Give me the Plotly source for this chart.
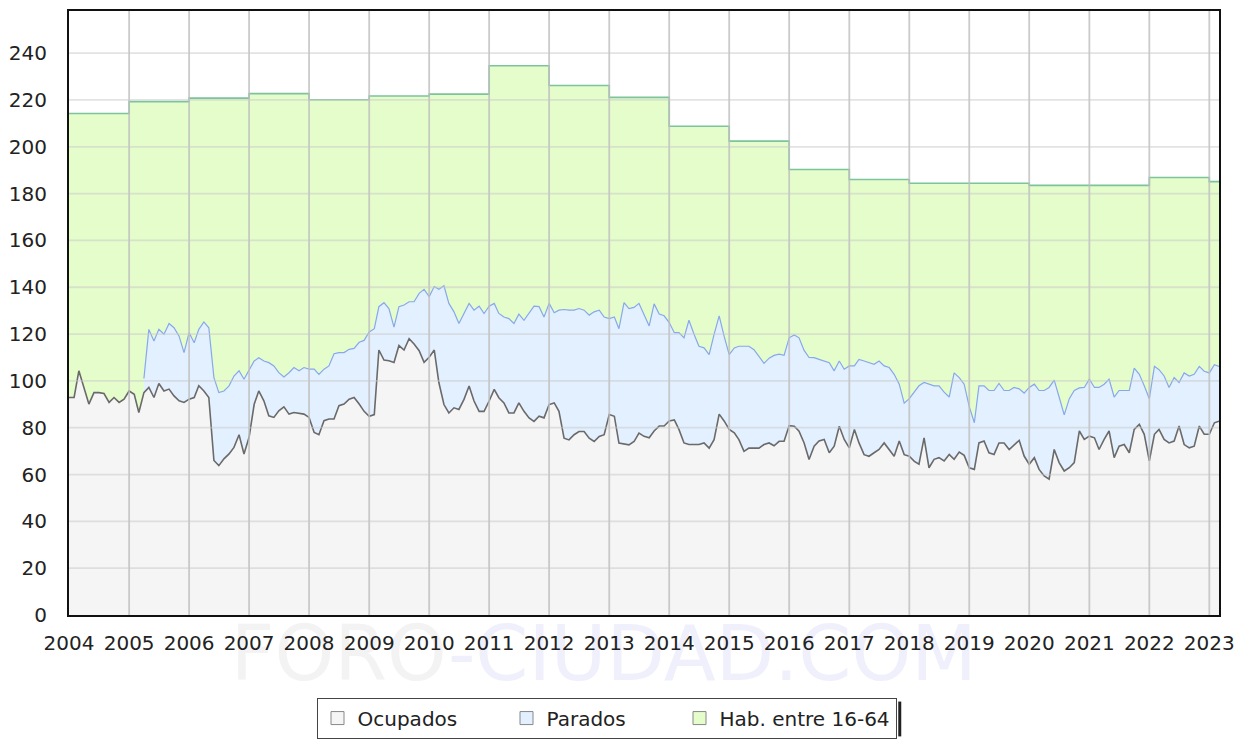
import pandas as pd
import plotly.graph_objects as go

# Monthly series, Jan 2004 .. Mar 2023
meses = pd.date_range("2004-01-01", "2023-03-01", freq="MS")

ocupados = [
    92.9, 92.9, 104.3, 97.2, 90.1, 95.0, 95.0, 94.6, 90.8, 92.9, 90.8, 92.2,
    95.7, 94.3, 86.5, 95.0, 97.2, 92.9, 98.9, 95.7, 96.5, 93.6, 91.5, 90.8,
    92.2, 92.9, 97.9, 95.7, 92.9, 66.0, 63.8, 66.7, 68.8, 71.6, 77.0, 68.8,
    75.9, 90.0, 95.7, 91.5, 85.1, 84.4, 87.2, 88.9, 85.8, 86.5, 86.1, 85.8,
    84.4, 78.0, 77.0, 83.0, 83.7, 83.7, 89.4, 90.1, 92.2, 92.9, 90.1, 87.0,
    84.9, 85.6, 113.2, 108.9, 108.6, 107.9, 115.1, 113.2, 118.0, 115.8, 112.9, 107.9,
    110.1, 113.2, 99.3, 89.9, 86.3, 88.5, 87.8, 92.1, 97.8, 91.4, 87.0, 87.0,
    91.4, 96.4, 92.8, 90.6, 86.3, 86.3, 90.6, 87.0, 84.2, 82.7, 84.9, 84.2,
    89.9, 90.6, 87.0, 75.5, 74.8, 77.0, 78.4, 78.4, 75.5, 74.1, 76.3, 77.0,
    85.6, 84.9, 73.4, 73.0, 72.7, 74.1, 77.7, 76.3, 75.7, 78.6, 80.7, 80.7,
    82.9, 83.3, 79.3, 73.5, 72.8, 72.8, 72.8, 73.5, 71.3, 74.9, 85.8, 82.9,
    79.3, 77.8, 74.9, 69.9, 71.3, 71.3, 71.3, 72.8, 73.5, 72.3, 74.2, 74.2,
    80.9, 80.6, 78.5, 73.5, 66.4, 72.1, 74.3, 75.0, 69.3, 72.1, 80.6, 75.0,
    71.4, 79.2, 73.5, 68.5, 67.8, 69.3, 70.7, 73.5, 70.7, 67.8, 74.3, 68.5,
    67.8, 65.6, 64.4, 75.7, 62.9, 66.5, 67.2, 65.8, 68.6, 66.5, 69.6, 68.2,
    62.9, 62.2, 73.5, 74.3, 69.3, 68.6, 73.5, 73.5, 70.7, 72.8, 74.6, 67.9,
    64.4, 67.2, 62.2, 59.4, 58.0, 70.7, 65.1, 61.5, 62.9, 65.1, 78.6, 75.0,
    76.4, 75.7, 70.7, 75.0, 78.6, 67.2, 72.1, 72.8, 69.3, 79.3, 81.4, 77.2,
    65.8, 77.2, 79.3, 75.0, 73.5, 74.3, 80.7, 72.8, 71.4, 72.1, 80.7, 77.2,
    77.2, 82.1, 82.8,
]

# Top edge of the "Parados" band (ocupados + parados), available from Apr 2005
inicio_parados = 15
ocupados_mas_parados = [
    101.0, 122.0, 117.0, 122.0, 119.9, 124.5, 122.7, 119.1, 112.1,
    120.6, 116.3, 122.0, 125.2, 122.7, 101.4, 95.0, 95.7, 97.9, 102.1, 104.3, 100.7,
    104.3, 108.5, 109.9, 108.5, 107.8, 106.4, 103.5, 101.7, 103.5, 105.7, 104.3, 105.7,
    105.0, 105.0, 102.8, 105.0, 106.4, 111.6, 112.1, 112.1, 113.5, 113.9, 116.5, 117.3,
    120.9, 122.3, 131.7, 133.4, 130.9, 123.0, 131.7, 132.4, 133.8, 133.8, 137.4, 139.1,
    136.0, 140.3, 139.1, 140.6, 133.1, 129.5, 124.5, 128.8, 133.1, 130.2, 131.9, 128.8,
    131.9, 133.1, 128.8, 127.3, 126.6, 124.5, 128.5, 125.9, 128.8, 131.9, 131.7, 127.3,
    133.1, 129.1, 130.2, 130.5, 130.2, 130.2, 130.9, 130.2, 128.1, 129.5, 130.2, 127.3,
    126.6, 127.3, 122.3, 133.4, 130.9, 131.4, 133.1, 128.0, 123.5, 132.9, 128.6, 127.8,
    124.9, 120.6, 120.6, 118.4, 125.9, 119.9, 114.8, 114.1, 111.2, 119.9, 127.8, 119.1,
    111.2, 114.1, 114.8, 114.8, 114.8, 113.3, 110.4, 107.5, 109.7, 110.9, 111.4, 110.9,
    118.4, 119.6, 118.4, 113.0, 110.0, 109.9, 109.2, 108.5, 107.8, 104.3, 108.5, 105.0,
    106.4, 106.4, 109.2, 108.5, 107.8, 107.1, 108.5, 106.4, 105.7, 102.8, 98.6, 90.5,
    92.4, 95.2, 97.9, 99.3, 98.6, 97.9, 97.9, 95.2, 93.1, 103.4, 101.4, 98.6,
    89.0, 82.1, 97.9, 97.9, 95.9, 95.9, 98.9, 95.9, 95.9, 97.2, 96.6, 94.8,
    97.2, 98.6, 95.9, 95.9, 97.2, 100.3, 93.1, 85.5, 92.4, 95.9, 97.0, 97.2,
    100.7, 97.2, 97.2, 98.6, 100.7, 93.1, 95.9, 95.9, 95.9, 105.5, 102.8, 97.9,
    92.4, 106.2, 104.8, 102.1, 97.2, 101.4, 99.3, 103.4, 102.1, 102.8, 106.2, 104.1,
    103.4, 106.9, 106.2,
]

# Population aged 16-64, yearly values
anios = list(range(2004, 2024))
habitantes_16_64 = [214.2, 219.3, 220.8, 222.7, 220.1, 221.7, 222.5, 234.6, 226.2, 221.1,
                    208.8, 202.4, 190.3, 186.0, 184.4, 184.4, 183.5, 183.5, 186.9, 185.1]

nombres = ["Ocupados", "Parados", "Hab. entre 16-64"]
rellenos = ["#f5f5f5", "#e3f0ff", "#e5fdcb"]
lineas = ["#6a6a6a", "#86a8ec", "#7cc49c"]
anchos_leyenda = [144, 128, None]

x_hab = [pd.Timestamp(f"{a}-01-01") for a in anios] + [meses[-1]]
y_hab = habitantes_16_64 + [habitantes_16_64[-1]]

fig = go.Figure()
fig.add_trace(go.Scatter(x=x_hab, y=y_hab, mode="lines", line=dict(color=lineas[2], width=1.6, shape="hv"),
                         fill="tozeroy", fillcolor=rellenos[2], showlegend=False, hoverinfo="skip"))
fig.add_trace(go.Scatter(x=meses[inicio_parados:], y=ocupados_mas_parados, mode="lines",
                         line=dict(color=lineas[1], width=1.2), fill="tozeroy", fillcolor=rellenos[1],
                         showlegend=False))
fig.add_trace(go.Scatter(x=meses, y=ocupados, mode="lines", line=dict(color=lineas[0], width=1.6),
                         fill="tozeroy", fillcolor=rellenos[0], showlegend=False))

for n, c, w in zip(nombres, rellenos, anchos_leyenda):
    kw = dict(legendwidth=w) if w else {}
    fig.add_trace(go.Scatter(x=[None], y=[None], mode="markers", name=n,
                             marker=dict(symbol="square", size=13, color=c, line=dict(color="#888888", width=1)),
                             **kw))

# watermark (kept below the axis labels)
shapes = [
    dict(type="rect", xref="paper", yref="paper", x0=0.138, x1=0.792, y0=-0.085, y1=-0.027,
         line=dict(width=0), fillcolor="rgba(0,0,0,0)", layer="below",
         label=dict(text="FORO", textposition="middle left", padding=0,
                    font=dict(size=76, family="DejaVu Sans", color="#f3f3f3"))),
    dict(type="rect", xref="paper", yref="paper", x0=0.138, x1=0.792, y0=-0.085, y1=-0.027,
         line=dict(width=0), fillcolor="rgba(0,0,0,0)", layer="below",
         label=dict(text="-CIUDAD.COM", textposition="middle right", padding=0,
                    font=dict(size=76, family="DejaVu Sans", color="#f0f0fc"))),
]
# grid drawn above the filled areas
for a in anios[1:]:
    shapes.append(dict(type="line", xref="x", yref="paper", x0=f"{a}-01-01", x1=f"{a}-01-01", y0=0, y1=1,
                       line=dict(color="rgba(190,190,190,0.8)", width=1.8), layer="above"))
for v in range(20, 260, 20):
    shapes.append(dict(type="line", xref="paper", yref="y", x0=0, x1=1, y0=v, y1=v,
                       line=dict(color="rgba(200,200,200,0.5)", width=1.8), layer="above"))
# legend drop shadow
shapes.append(dict(type="rect", xref="paper", yref="paper", x0=0.7211, x1=0.7237, y0=-0.201, y1=-0.1433,
                   fillcolor="#222222", line=dict(width=0), layer="above"))

fig.update_layout(
    width=1240, height=732,
    margin=dict(l=60, r=29, t=1, b=124),
    paper_bgcolor="white", plot_bgcolor="white",
    font=dict(family="DejaVu Sans", size=20, color="#222222"),
    shapes=shapes,
    showlegend=True,
    legend=dict(orientation="h", x=0.4674, xanchor="center", y=-0.1367, yanchor="top",
                bordercolor="#444444", borderwidth=1, bgcolor="white",
                font=dict(size=20), itemsizing="trace"),
)
fig.update_xaxes(type="date", range=[meses[0], meses[-1]], dtick="M12", tick0="2004-01-01",
                 tickformat="%Y", showgrid=False, showline=True, mirror=True, linecolor="#111111",
                 linewidth=2, ticks="", ticklabelstandoff=9)
fig.update_yaxes(range=[0, 258], dtick=20, tick0=0, showgrid=False, showline=True, mirror=True,
                 linecolor="#111111", linewidth=2, ticks="", ticklabelstandoff=16, zeroline=False)

fig.write_html("out.html")
